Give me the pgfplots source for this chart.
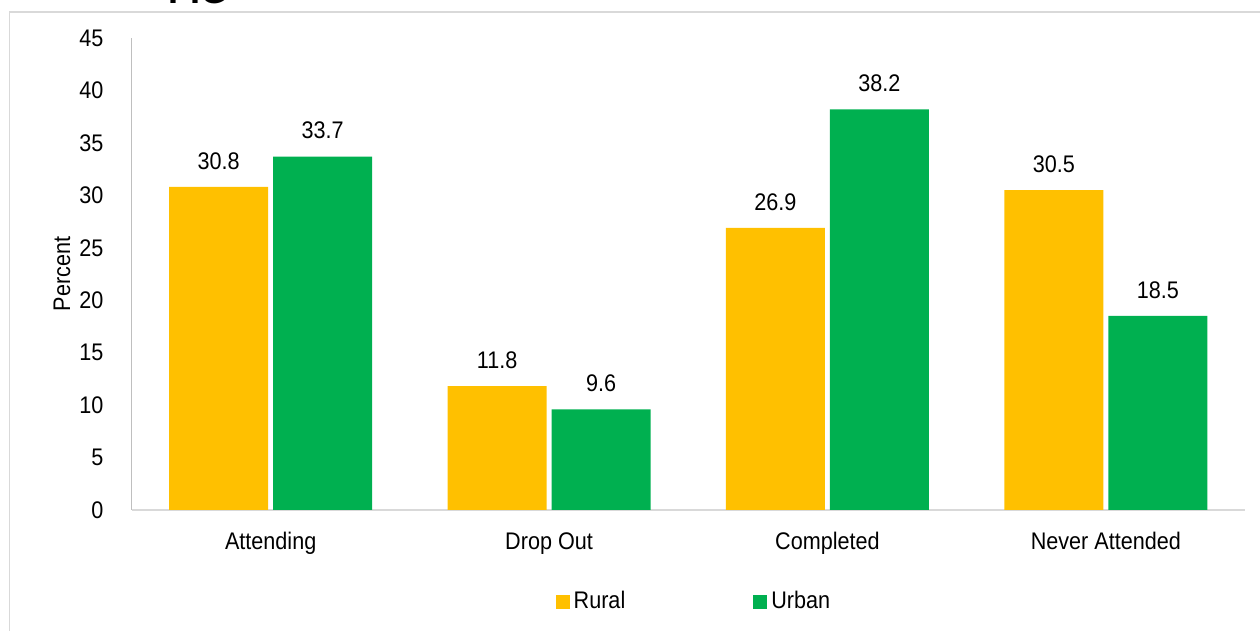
\documentclass[border=0pt]{standalone}
\usepackage{fontspec}
\setmainfont{Liberation Sans}[FakeStretch=0.9]
\usepackage{pgfplots}
\pgfplotsset{compat=1.18}
\definecolor{rural}{HTML}{FFC000}
\definecolor{urban}{HTML}{00B050}
\definecolor{framegray}{HTML}{D9D9D9}
\definecolor{axgray}{HTML}{BFBFBF}
\begin{document}
\fontsize{12}{14}\selectfont
\begin{tikzpicture}
\useasboundingbox (0,0) rectangle (630pt,315.5pt);
\draw[framegray, line width=0.8pt] (4.65pt,-10pt) rectangle (650pt,309.5pt);
\node[anchor=base, font=\fontsize{20}{24}\selectfont\bfseries] at (99.25pt,313.5pt) {FIG};
\begin{axis}[
  at={(65.75pt,60.5pt)}, anchor=south west,
  scale only axis, width=556.75pt, height=236pt,
  ybar, bar width=49.5pt,
  xmin=-0.5, xmax=3.5, ymin=0, ymax=45,
  xtick={0,1,2,3},
  xticklabels={Attending, Drop Out, Completed, Never Attended},
  ytick={0,5,...,45},
  tick style={draw=none},
  axis x line=bottom, axis y line=left,
  x axis line style={-, framegray, line width=0.8pt},
  y axis line style={-, axgray, line width=0.8pt},
  /pgf/number format/assume math mode=true,
  yticklabel style={xshift=-7.75pt},
  xticklabel style={yshift=-4.6pt, text height=8.8pt, text depth=2.5pt},
  ylabel={Percent},
  ylabel style={at={(axis description cs:-0.0624,0.5)}, anchor=center, rotate=0},
  nodes near coords,
  nodes near coords style={yshift=4.5pt, /pgf/number format/.cd, fixed, precision=1, fixed zerofill, assume math mode=true},
  legend style={at={(0.506,-0.195)}, anchor=center, draw=none, fill=none,
    legend columns=2, /tikz/every even column/.append style={column sep=62pt}},
]
\addplot[fill=rural, draw=none, bar shift=-26pt,
  legend image code/.code={\fill[rural] (0pt,-3.5pt) rectangle (7pt,3.5pt);}]
  coordinates {(0,30.8) (1,11.8) (2,26.9) (3,30.5)};
\addplot[fill=urban, draw=none, bar shift=26pt,
  legend image code/.code={\fill[urban] (0pt,-3.5pt) rectangle (7pt,3.5pt);}]
  coordinates {(0,33.7) (1,9.6) (2,38.2) (3,18.5)};
\legend{Rural, Urban}
\end{axis}
\end{tikzpicture}
\end{document}
